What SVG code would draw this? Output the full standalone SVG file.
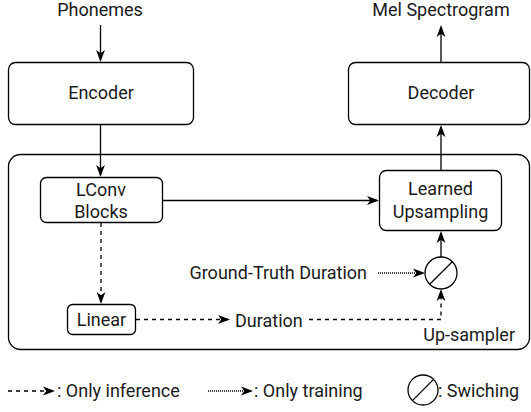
<svg xmlns="http://www.w3.org/2000/svg" width="531" height="412" viewBox="0 0 531 412">
<style>
  .box{fill:#fff;stroke:#000;stroke-width:1.3}
  .t{font-family:Roboto,"Liberation Sans",sans-serif;font-size:18px;fill:#1a1a1a}
  .m{text-anchor:middle}
  .e{text-anchor:end}
  .ln{fill:none;stroke:#000;stroke-width:1.3}
  .dash{stroke-dasharray:4 4}
  .dot{stroke-dasharray:1 1}
</style>
<defs>
  <marker id="ah" markerUnits="userSpaceOnUse" markerWidth="13" markerHeight="10" viewBox="0 0 13 10" refX="10" refY="5" orient="auto">
    <path d="M0,0.6 L12,5 L0,9.4 L3.2,5 Z" fill="#000"/>
  </marker>
</defs>
<rect width="531" height="412" fill="#fff"/>
<g id="upsampler">
  <rect class="box" x="8.5" y="154.5" width="521" height="195" rx="12"/>
  <text class="t e" x="515" y="341">Up-sampler</text>
</g>
<g id="phonemes"><text class="t m" x="100" y="16">Phonemes</text></g>
<g id="mel"><text class="t m" x="441" y="16">Mel Spectrogram</text></g>
<g id="encoder">
  <rect class="box" x="8.5" y="62.5" width="185" height="62" rx="7"/>
  <text class="t m" x="101" y="99">Encoder</text>
</g>
<g id="decoder">
  <rect class="box" x="348.5" y="62.5" width="181" height="62" rx="7"/>
  <text class="t m" x="441" y="99">Decoder</text>
</g>
<g id="lconv">
  <rect class="box" x="40.5" y="177.5" width="122" height="45" rx="6"/>
  <text class="t m" x="101" y="196">LConv</text>
  <text class="t m" x="101" y="218">Blocks</text>
</g>
<g id="linear">
  <rect class="box" x="67.5" y="304.5" width="68" height="30" rx="5"/>
  <text class="t m" x="101.5" y="326">Linear</text>
</g>
<g id="learned">
  <rect class="box" x="379.5" y="170.5" width="122" height="60" rx="7"/>
  <text class="t m" x="440.5" y="195">Learned</text>
  <text class="t m" x="440.5" y="218">Upsampling</text>
</g>
<g id="switch">
  <circle class="ln" cx="441" cy="273" r="16" fill="#fff"/>
  <line class="ln" x1="429.7" y1="284.3" x2="452.3" y2="261.7"/>
</g>
<g id="gt"><text class="t e" x="367" y="279">Ground-Truth Duration</text></g>
<g id="duration"><text class="t" x="235" y="327">Duration</text></g>
<g id="connectors">
  <line class="ln" x1="100.5" y1="25" x2="100.5" y2="60" marker-end="url(#ah)"/>
  <line class="ln" x1="100.5" y1="124.5" x2="100.5" y2="175" marker-end="url(#ah)"/>
  <line class="ln dash" x1="101" y1="223" x2="101" y2="302" marker-end="url(#ah)"/>
  <line class="ln" x1="162.5" y1="200.5" x2="377" y2="200.5" marker-end="url(#ah)"/>
  <line class="ln dash" x1="136" y1="319.5" x2="228" y2="319.5" marker-end="url(#ah)"/>
  <polyline class="ln dash" points="309,319.5 441,319.5 441,291" marker-end="url(#ah)"/>
  <line class="ln dot" x1="378" y1="273" x2="423" y2="273" marker-end="url(#ah)"/>
  <line class="ln" x1="441" y1="257" x2="441" y2="233" marker-end="url(#ah)"/>
  <line class="ln" x1="441" y1="170.5" x2="441" y2="127" marker-end="url(#ah)"/>
  <line class="ln" x1="441" y1="62.5" x2="441" y2="27" marker-end="url(#ah)"/>
</g>
<g id="legend">
  <line class="ln dash" x1="8" y1="391" x2="53" y2="391" marker-end="url(#ah)"/>
  <text class="t" x="57" y="397">: Only inference</text>
  <line class="ln dot" x1="208" y1="391" x2="251" y2="391" marker-end="url(#ah)"/>
  <text class="t" x="254" y="397">: Only training</text>
  <circle class="ln" cx="423" cy="390" r="15"/>
  <line class="ln" x1="412.4" y1="400.6" x2="433.6" y2="379.4"/>
  <text class="t" x="438" y="397">: Swiching</text>
</g>
</svg>
